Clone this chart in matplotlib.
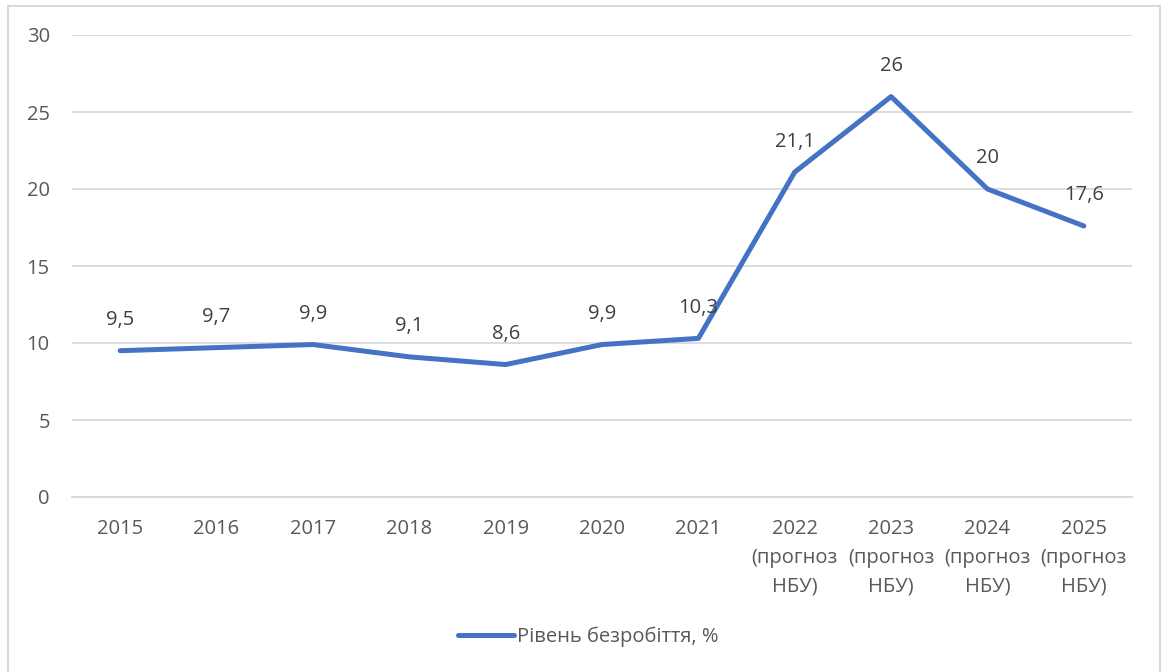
import matplotlib.pyplot as plt
from matplotlib.patches import Rectangle

plt.rcParams['font.family'] = ['Open Sans', 'DejaVu Sans']

# unemployment rate, % (2022-2025 are NBU forecasts)
years = ['2015', '2016', '2017', '2018', '2019', '2020', '2021',
         '2022\n(прогноз\nНБУ)', '2023\n(прогноз\nНБУ)',
         '2024\n(прогноз\nНБУ)', '2025\n(прогноз\nНБУ)']
rate = [9.5, 9.7, 9.9, 9.1, 8.6, 9.9, 10.3, 21.1, 26, 20, 17.6]
rate_labels = ['9,5', '9,7', '9,9', '9,1', '8,6', '9,9', '10,3', '21,1', '26', '20', '17,6']
y_ticks = [0, 5, 10, 15, 20, 25, 30]

text_color = '#595959'
line_color = '#4472C4'

fig = plt.figure(figsize=(11.66, 6.72), dpi=100)
ax = fig.add_axes([72 / 1166, 175 / 672, 1060 / 1166, 462 / 672])

x = list(range(len(years)))
line, = ax.plot(x, rate, color=line_color, linewidth=3.6,
                solid_joinstyle='round', solid_capstyle='round',
                label='Рівень безробіття, %', zorder=3)

for xi, yi, lab in zip(x, rate, rate_labels):
    ax.annotate(lab, (xi, yi), xytext=(0, 22), textcoords='offset points',
                ha='center', va='center', fontsize=14.5, color='#404040', zorder=4)

ax.set_xlim(-0.5, len(years) - 0.5)
ax.set_ylim(0, 30)
ax.set_yticks(y_ticks)
ax.set_xticks(x)
ax.set_xticklabels(years, linespacing=1.58)
ax.grid(axis='y', color='#D9D9D9', linewidth=1.3)
ax.set_axisbelow(True)
for side in ['top', 'right', 'left']:
    ax.spines[side].set_visible(False)
ax.spines['bottom'].set_color('#D9D9D9')
ax.spines['bottom'].set_linewidth(1.3)
ax.tick_params(axis='both', length=0, labelsize=14.5, labelcolor=text_color)
ax.tick_params(axis='y', pad=16)
ax.tick_params(axis='x', pad=16)

fig.legend(handles=[line], loc='center', bbox_to_anchor=(588 / 1166, 1 - 637 / 672),
           frameon=False, fontsize=14.5, labelcolor=text_color,
           handlelength=2.8, handletextpad=0.15)

# outer chart frame
fig.patches.append(Rectangle((8 / 1166, -0.05), 1152 / 1166, 1.05 - 6 / 672,
                             transform=fig.transFigure, fill=False,
                             edgecolor='#D9D9D9', linewidth=1.5))

fig.savefig('out.png', dpi=100, facecolor='white')
